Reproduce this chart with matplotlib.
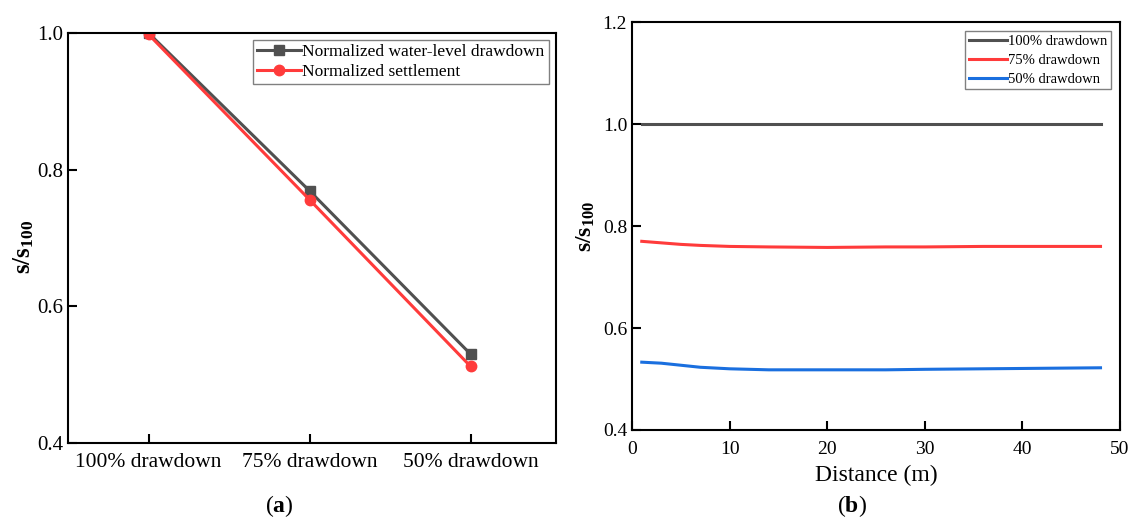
import matplotlib
matplotlib.use("Agg")
import matplotlib.pyplot as plt

# ---- data -------------------------------------------------------------
scenarios = ["100% drawdown", "75% drawdown", "50% drawdown"]
norm_drawdown = [1.0, 0.769, 0.530]
norm_settlement = [0.998, 0.756, 0.512]

distance = [1, 3, 5, 7, 10, 14, 20, 26, 30, 36, 42, 48]
ratio_100 = [1.0, 1.0, 1.0, 1.0, 1.0, 1.0, 1.0, 1.0, 1.0, 1.0, 1.0, 1.0]
ratio_75 = [0.770, 0.767, 0.764, 0.762, 0.760, 0.759, 0.758, 0.759, 0.759, 0.760, 0.760, 0.760]
ratio_50 = [0.533, 0.531, 0.527, 0.523, 0.520, 0.518, 0.518, 0.518, 0.519, 0.520, 0.521, 0.522]

yticks_a = [0.4, 0.6, 0.8, 1.0]
yticks_b = [0.4, 0.6, 0.8, 1.0, 1.2]
xticks_b = [0, 10, 20, 30, 40, 50]

# ---- style ------------------------------------------------------------
plt.rcParams["font.family"] = ["Liberation Serif", "DejaVu Serif"]
plt.rcParams["mathtext.fontset"] = "custom"
plt.rcParams["mathtext.it"] = "Liberation Serif:italic:bold"
plt.rcParams["mathtext.rm"] = "Liberation Serif:bold"
plt.rcParams["mathtext.bf"] = "Liberation Serif:bold"

GRAY = "#505050"
RED = "#ff3b3b"
BLUE = "#1a6fdf"

YLABEL = r"$\mathbf{s/s_{100}}$"

fig = plt.figure(figsize=(11.31, 5.19), dpi=100)
ax1 = fig.add_axes([0.0601, 0.1464, 0.4315, 0.790])
ax2 = fig.add_axes([0.5588, 0.1715, 0.4315, 0.786])

for ax in (ax1, ax2):
    for sp in ax.spines.values():
        sp.set_linewidth(1.5)
    ax.tick_params(direction="in", length=6.5, width=1.5, labelsize=14)

# ---- panel (a) --------------------------------------------------------
xpos = list(range(1, len(scenarios) + 1))
ax1.plot(xpos, norm_drawdown, color=GRAY, lw=2.2, marker="s", ms=7,
         label="Normalized water-level drawdown")
ax1.plot(xpos, norm_settlement, color=RED, lw=2.2, marker="o", ms=7.5,
         label="Normalized settlement")
ax1.set_xlim(0.5, 3.53)
ax1.set_ylim(0.4, 1.0)
ax1.set_yticks(yticks_a)
ax1.set_yticklabels([f"{v:.1f}" for v in yticks_a], fontsize=15)
ax1.set_xticks(xpos)
ax1.set_xticklabels(scenarios, fontsize=15.5)
ax1.tick_params(axis="x", pad=7)
ax1.set_ylabel(YLABEL, fontsize=18)
ax1.yaxis.set_label_coords(-0.066, 0.478)
leg1 = ax1.legend(loc="upper right", fontsize=12.5, frameon=True, fancybox=False,
                  edgecolor="#606060", handlelength=2.5, handletextpad=0.1,
                  borderpad=0.25, labelspacing=0.2, borderaxespad=0.4)
leg1.get_frame().set_linewidth(1.0)

# ---- panel (b) --------------------------------------------------------
ax2.plot(distance, ratio_100, color=GRAY, lw=2.2, label="100% drawdown")
ax2.plot(distance, ratio_75, color=RED, lw=2.2, label="75% drawdown")
ax2.plot(distance, ratio_50, color=BLUE, lw=2.2, label="50% drawdown")
ax2.set_xlim(0, 50)
ax2.set_ylim(0.4, 1.2)
ax2.set_xticks(xticks_b)
ax2.set_yticks(yticks_b)
ax2.set_yticklabels([f"{v:.1f}" for v in yticks_b])
ax2.tick_params(axis="x", pad=8)
ax2.set_xlabel("Distance (m)", fontsize=17, labelpad=5)
ax2.set_ylabel(YLABEL, fontsize=17)
ax2.yaxis.set_label_coords(-0.072, 0.5)
leg2 = ax2.legend(loc="upper right", fontsize=10.5, frameon=True, fancybox=False,
                  edgecolor="#606060", handlelength=2.6, handletextpad=0.1,
                  borderpad=0.25, labelspacing=0.4, borderaxespad=0.6)
leg2.get_frame().set_linewidth(1.0)

# ---- panel captions ---------------------------------------------------
fig.text(0.247, 0.014, r"($\mathbf{a}$)", fontsize=17, ha="center")
fig.text(0.753, 0.014, r"($\mathbf{b}$)", fontsize=17, ha="center")

fig.savefig("out.png", dpi=100)
